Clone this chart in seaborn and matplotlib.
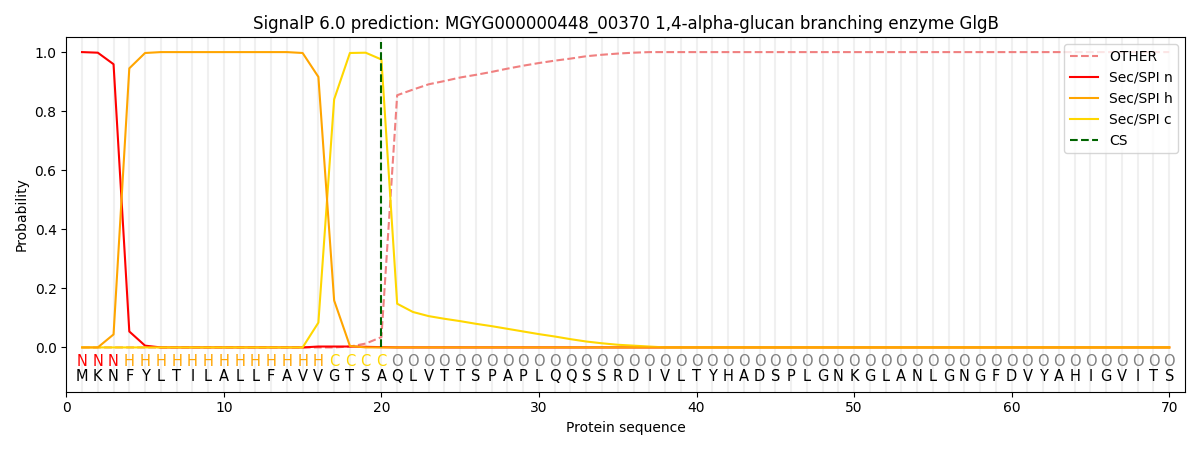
import matplotlib
matplotlib.use("Agg")
import matplotlib.pyplot as plt
import numpy as np
import pandas as pd
import seaborn as sns

title = "SignalP 6.0 prediction: MGYG000000448_00370 1,4-alpha-glucan branching enzyme GlgB"
sequence = list("MKNFYLTILALLFAVVGTSAQLVTTSPAPLQQSSRDIVLTYHADSPLGNKGLANLGNGFDVYAHIGVITS")
region_labels = list("NNN" + "H" * 13 + "CCCC" + "O" * 50)
cleavage_site = 20

other = [0.0] * 17 + [0.003, 0.013, 0.035,
         0.854, 0.873, 0.891, 0.902, 0.914, 0.923, 0.933, 0.944, 0.954, 0.963,
         0.971, 0.978, 0.986, 0.991, 0.995, 0.998] + [1.0] * 34
sec_n = [1.0, 0.998, 0.959, 0.054, 0.006] + [0.0] * 10 + [0.003, 0.003, 0.003, 0.002, 0.001] + [0.0] * 50
sec_h = [0.0, 0.0, 0.044, 0.945, 0.997] + [1.0] * 9 + [0.997, 0.916, 0.159, 0.005, 0.0, 0.0] + [0.0] * 50
sec_c = [0.0] * 15 + [0.084, 0.84, 0.997, 0.998, 0.975,
         0.148, 0.120, 0.106, 0.097, 0.089, 0.080, 0.072, 0.063, 0.054, 0.045,
         0.037, 0.028, 0.020, 0.014, 0.009, 0.006, 0.003] + [0.0] * 33

pos = np.arange(1, len(sequence) + 1)
label_colors = {"N": "red", "H": "orange", "C": "gold", "O": "grey"}

fig, ax = plt.subplots(figsize=(12, 4.5), dpi=100)

for p in pos:
    ax.axvline(p, color="#f0f0f0", lw=1.5, zorder=0)

sns.lineplot(x=pos, y=other, ax=ax, color="lightcoral", linestyle="--", label="OTHER", lw=1.5, zorder=2)
sns.lineplot(x=pos, y=sec_n, ax=ax, color="red", label="Sec/SPI n", lw=1.5, zorder=3)
sns.lineplot(x=pos, y=sec_c, ax=ax, color="gold", label="Sec/SPI c", lw=1.5, zorder=3)
sns.lineplot(x=pos, y=sec_h, ax=ax, color="orange", label="Sec/SPI h", lw=1.5, zorder=3)
ax.vlines(cleavage_site, 0, 1.035, color="darkgreen", linestyle="--", lw=1.5, label="CS", zorder=5)

for p, aa, lab in zip(pos, sequence, region_labels):
    ax.text(p, -0.047, lab, color=label_colors[lab], ha="center", va="center", fontsize=10.5)
    ax.text(p, -0.098, aa, color="black", ha="center", va="center", fontsize=10.5)

handles, labels = ax.get_legend_handles_labels()
order = [labels.index(n) for n in ["OTHER", "Sec/SPI n", "Sec/SPI h", "Sec/SPI c", "CS"]]
ax.legend([handles[i] for i in order], [labels[i] for i in order], loc="upper right")

ax.set_xlim(0, 71)
ax.set_ylim(-0.15, 1.05)
ax.set_xlabel("Protein sequence")
ax.set_ylabel("Probability")
ax.set_title(title)

plt.tight_layout()
plt.savefig("out.png", dpi=100)
plt.close()
